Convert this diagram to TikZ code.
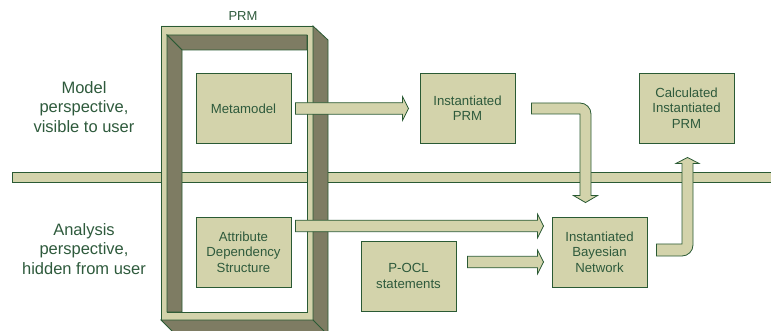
\documentclass[tikz,border=0pt]{standalone}
\usepackage{fontspec}
\setmainfont{Liberation Sans}
\usetikzlibrary{calc}
\definecolor{khaki}{HTML}{D3D3AB}
\definecolor{dgreen}{HTML}{2A5A34}
\definecolor{dside}{HTML}{7E7C63}
\definecolor{txt}{HTML}{2E5A3C}
\begin{document}
\begin{tikzpicture}[x=1pt,y=-1pt,
  box/.style={draw=dgreen, fill=khaki, line width=0.9pt, minimum width=95pt, minimum height=70pt, inner sep=0pt, align=center, text=txt, font=\fontsize{13.2}{15.5}\selectfont},
  blk/.style={draw=dgreen, fill=khaki, line width=0.8pt, line join=miter},
  side/.style={draw=dgreen, fill=dside, line width=0.8pt},
  lbl/.style={align=center, text=txt, inner sep=0pt, font=\fontsize{16.5}{19.7}\selectfont}]
\useasboundingbox (0,0) rectangle (771,331);
% side labels
\node[lbl] (lmodel) at (84,107) {Model\\perspective,\\visible to user};
\node[lbl] (lanal) at (84,249) {Analysis\\perspective,\\hidden from user};
% band and frame
\begin{scope}
\clip (0,0) rectangle (771,331);
\draw[blk] (12,172) rectangle (775,182);
\draw[blk, even odd rule] (161,26) rectangle (313,320) (167,35) rectangle (307,312);
\draw[side] (167,35) -- (307,35) -- (307,50) -- (182,50) -- cycle;
\draw[side] (167,35) -- (182,50) -- (182,312) -- (167,312) -- cycle;
\draw[side] (313,26) -- (328,40) -- (328,340) -- (313,320) -- cycle;
\draw[side] (161,320) -- (313,320) -- (330,337) -- (178,337) -- cycle;
\end{scope}
\node[text=txt, font=\fontsize{13}{15}\selectfont, inner sep=0pt] (prm) at (243,16.5) {PRM};
% boxes
\node[box] (meta) at (243.5,108.5) {Metamodel};
\node[box] (ads) at (243.5,252) {Attribute\\Dependency\\Structure};
\node[box] (iprm) at (467.5,108) {Instantiated\\PRM};
\node[box] (cprm) at (686.5,108) {Calculated\\Instantiated\\PRM};
\node[box] (bn) at (599.5,252) {Instantiated\\Bayesian\\Network};
\node[box] (pocl) at (408.5,276) {P-OCL\\statements};
% straight block arrows
\newcommand\harrow[2]{%
  \draw[blk] ($(#1)+(0,-5.75)$) -- ($(#2)+(-6,-5.75)$) -- ($(#2)+(-6,-11.75)$) -- (#2)
    -- ($(#2)+(-6,11.75)$) -- ($(#2)+(-6,5.75)$) -- ($(#1)+(0,5.75)$) -- cycle;}
\coordinate (a1s) at ($(meta.east)+(4,0)$);
\coordinate (a1x) at ($(iprm.west)+(-11,0)$);
\coordinate (a1t) at (a1x |- a1s);
\harrow{a1s}{a1t}
\coordinate (a4s) at ($(ads.east)+(4,-26)$);
\coordinate (a4x) at ($(bn.west)+(-8,0)$);
\coordinate (a4t) at (a4x |- a4s);
\harrow{a4s}{a4t}
\coordinate (a5s) at ($(pocl.east)+(11,-14)$);
\coordinate (a5t) at (a4x |- a5s);
\harrow{a5s}{a5t}
% bent arrow: Instantiated PRM -> Bayesian Network
\coordinate (a2s) at ($(iprm.east)+(16,0.5)$);
\coordinate (a2t) at ($(bn.north)+(-14,-14)$);
\coordinate (a2c) at (a2t |- a2s);
\draw[blk] ($(a2s)+(0,-5.5)$) -- ($(a2c)+(-5.5,-5.5)$)
  .. controls ($(a2c)+(0.57,-5.5)$) and ($(a2c)+(5.5,-0.57)$) .. ($(a2c)+(5.5,5.5)$)
  -- ($(a2t)+(5.5,-7)$) -- ($(a2t)+(12,-7)$) -- (a2t) -- ($(a2t)+(-12,-7)$)
  -- ($(a2t)+(-5.5,-7)$) -- ($(a2c)+(-5.5,5.5)$) -- ($(a2s)+(0,5.5)$) -- cycle;
% bent arrow: Bayesian Network -> Calculated Instantiated PRM
\coordinate (a3s) at ($(bn.east)+(9,-2)$);
\coordinate (a3t) at ($(cprm.south)+(1,14)$);
\coordinate (a3c) at (a3t |- a3s);
\draw[blk] ($(a3s)+(0,-6)$) -- ($(a3c)+(-5.5,-6)$) -- ($(a3t)+(-5.5,6)$)
  -- ($(a3t)+(-11.5,6)$) -- (a3t) -- ($(a3t)+(11.5,6)$) -- ($(a3t)+(5.5,6)$)
  -- ($(a3c)+(5.5,-5)$) .. controls ($(a3c)+(5.5,1.07)$) and ($(a3c)+(0.57,6)$) .. ($(a3c)+(-5.5,6)$)
  -- ($(a3s)+(0,6)$) -- cycle;
\end{tikzpicture}
\end{document}
